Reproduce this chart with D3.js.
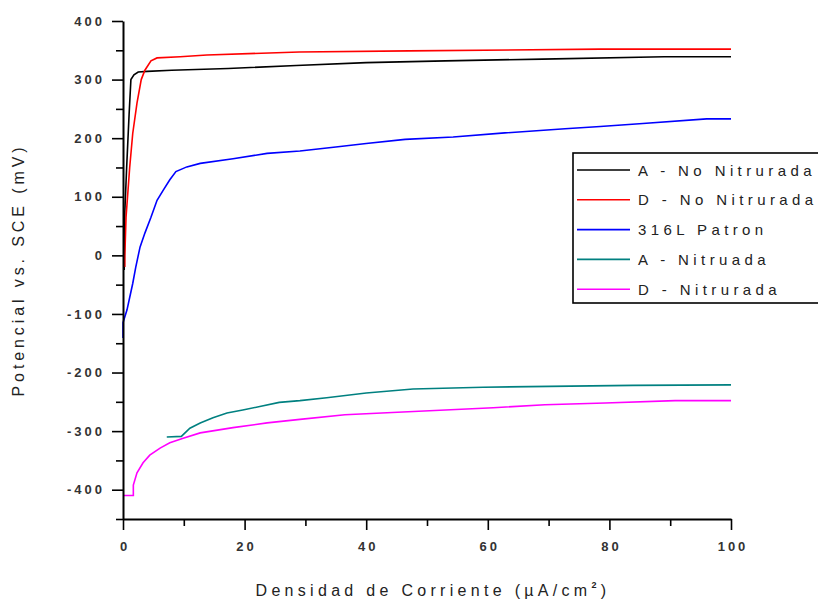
<!DOCTYPE html>
<html>
<head>
<meta charset="utf-8">
<script src="https://d3js.org/d3.v7.min.js"></script>
<style>
  body { margin: 0; background: #fff; }
  svg { display: block; }
  .tick text { font-family: Arial, "Liberation Sans", sans-serif; font-size: 13px; font-weight: bold; letter-spacing: 3px; fill: #333; }
  .axis path, .axis line { stroke: #000; }
</style>
</head>
<body>
<svg width="818" height="602"></svg>
<script>
// series (x = current density, y = potential)
var seriesNames = ["A - No Nitrurada", "D - No Nitrurada", "316L Patron", "A - Nitruada", "D - Nitrurada"];
var seriesColors = ["#000000", "#ff0000", "#0000ff", "#008080", "#ff00ff"];

var aNoX = [0.2, 0.3, 0.6, 1.0, 1.3, 1.8, 2.5, 4, 8, 17.3, 28.5, 40, 53, 69, 89, 100];
var aNoY = [-25, 75, 150, 240, 300, 308, 313, 314, 316, 319, 324, 329, 332, 335, 339, 339];

var dNoX = [0.3, 0.3, 0.5, 1.1, 1.6, 2.3, 3.0, 3.6, 4.6, 5.6, 9.4, 13.8, 29, 47, 78.5, 100];
var dNoY = [-20, 0, 65, 150, 208, 260, 300, 316, 332, 337, 339, 342, 347, 349, 352, 352];

var patronX = [0, 0, 0.66, 1.1, 1.6, 2.1, 2.8, 3.6, 4.6, 5.6, 6.6, 7.7, 8.7, 10.5, 12.7, 18.1, 23.7, 29.1, 35, 40, 46.4, 54.3, 62.8, 72.7, 78.5, 85.5, 96, 100];
var patronY = [-141, -115, -93, -72, -48, -20, 14, 38, 65, 94, 111, 129, 143, 151, 157, 165, 174, 178, 185, 191, 198, 202, 209, 216, 220, 225, 233, 233];

var aNitX = [7.2, 9.6, 11, 12.7, 14.8, 17.1, 19.7, 22.5, 25.7, 29.1, 33.5, 40, 47.7, 59.2, 83.9, 100];
var aNitY = [-310, -309, -295, -286, -277, -269, -264, -258, -251, -248, -243, -235, -228, -225, -222, -221];

var dNitX = [0, 1.7, 1.7, 2.3, 3.3, 4.4, 6.1, 7.7, 9.9, 12.7, 18.1, 23.7, 29.1, 36.5, 46.9, 60.9, 69.4, 79.3, 90.8, 100];
var dNitY = [-410, -410, -392, -371, -354, -341, -329, -320, -312, -303, -294, -286, -280, -272, -267, -260, -255, -252, -248, -248];

var xMajorTicks = [0, 20, 40, 60, 80, 100];
var xMinorTicks = [10, 30, 50, 70, 90];
var yMajorTicks = [-400, -300, -200, -100, 0, 100, 200, 300, 400];
var yMinorTicks = [-450, -350, -250, -150, -50, 50, 150, 250, 350];

var xTitle = "Densidad de Corriente (µA/cm";
var yTitle = "Potencial vs. SCE (mV)";

var svg = d3.select("svg");
var x = d3.scaleLinear().domain([0, 100]).range([123, 731]);
var y = d3.scaleLinear().domain([-450, 400]).range([519, 21]);

var seriesX = [aNoX, dNoX, patronX, aNitX, dNitX];
var seriesY = [aNoY, dNoY, patronY, aNitY, dNitY];

var line = d3.line()
    .x(function(d) { return x(d[0]); })
    .y(function(d) { return y(d[1]); });

// curves first, then axes on top
for (var i = 0; i < seriesNames.length; i++) {
    var pts = seriesX[i].map(function(v, j) { return [v, seriesY[i][j]]; });
    svg.append("path")
        .datum(pts)
        .attr("fill", "none")
        .attr("stroke", seriesColors[i])
        .attr("stroke-width", 1.6)
        .attr("d", line);
}

// plain hyphen minus, like the original
var fmt = function(d) { return String(d); };

// minor ticks
svg.append("g")
    .attr("class", "axis")
    .attr("transform", "translate(0,519)")
    .call(d3.axisBottom(x).tickValues(xMinorTicks).tickSize(7).tickFormat(""))
    .call(function(g) { g.select(".domain").remove(); g.selectAll("line").attr("stroke-width", 1.6); });

svg.append("g")
    .attr("class", "axis")
    .attr("transform", "translate(123,0)")
    .call(d3.axisLeft(y).tickValues(yMinorTicks).tickSize(7).tickFormat(""))
    .call(function(g) { g.select(".domain").remove(); g.selectAll("line").attr("stroke-width", 1.6); });

// major ticks with labels
svg.append("g")
    .attr("class", "axis")
    .attr("transform", "translate(0,519)")
    .call(d3.axisBottom(x).tickValues(xMajorTicks).tickFormat(fmt).tickSize(11).tickSizeOuter(0).tickPadding(12))
    .call(function(g) {
        g.select(".domain").attr("stroke-width", 2);
        g.selectAll("line").attr("stroke-width", 1.6);
        g.selectAll("text").attr("dx", "1.5px");
    });

svg.append("g")
    .attr("class", "axis")
    .attr("transform", "translate(123,0)")
    .call(d3.axisLeft(y).tickValues(yMajorTicks).tickFormat(fmt).tickSize(11).tickSizeOuter(0).tickPadding(7))
    .call(function(g) {
        g.select(".domain").attr("stroke-width", 2);
        g.selectAll("line").attr("stroke-width", 1.6);
    });

// axis titles
var xt = svg.append("text")
    .attr("x", 433)
    .attr("y", 596)
    .attr("text-anchor", "middle")
    .style("font-family", "Arial, 'Liberation Sans', sans-serif")
    .style("font-size", "16px")
    .style("letter-spacing", "4.3px")
    .style("fill", "#222");
xt.append("tspan").text(xTitle);
xt.append("tspan").attr("dy", "-8").style("font-size", "9px").style("font-weight", "bold").text("2");
xt.append("tspan").attr("dy", "8").text(")");

svg.append("text")
    .attr("transform", "translate(24,270) rotate(-90)")
    .attr("text-anchor", "middle")
    .style("font-family", "Arial, 'Liberation Sans', sans-serif")
    .style("font-size", "16px")
    .style("letter-spacing", "3.9px")
    .style("fill", "#222")
    .text(yTitle);

// legend
var legend = svg.append("g");
legend.append("rect")
    .attr("x", 573)
    .attr("y", 153)
    .attr("width", 260)
    .attr("height", 150)
    .attr("fill", "#fff")
    .attr("stroke", "#000")
    .attr("stroke-width", 1.6);

seriesNames.forEach(function(name, i) {
    var ly = 170 + i * 29.8;
    legend.append("line")
        .attr("x1", 577).attr("x2", 630)
        .attr("y1", ly).attr("y2", ly)
        .attr("stroke", seriesColors[i])
        .attr("stroke-width", 1.6);
    legend.append("text")
        .attr("x", 638)
        .attr("y", ly + 5.5)
        .style("font-family", "Arial, 'Liberation Sans', sans-serif")
        .style("font-size", "15px")
        .style("letter-spacing", "4.4px")
        .style("fill", "#222")
        .text(name);
});
</script>
</body>
</html>
